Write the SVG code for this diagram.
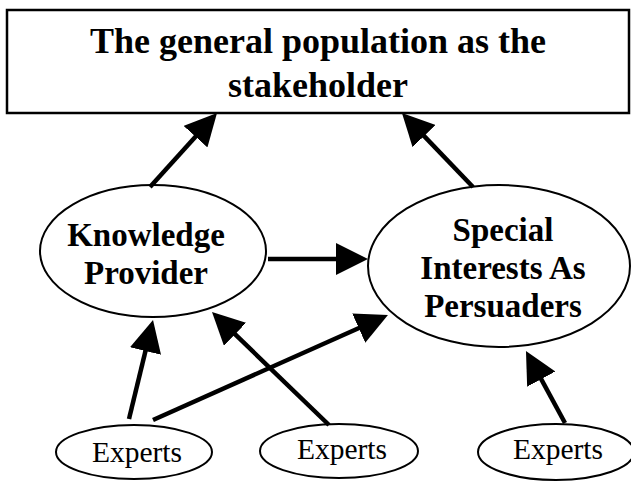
<svg xmlns="http://www.w3.org/2000/svg" width="631" height="482" viewBox="0 0 631 482">
<style>
.box{fill:#fff;stroke:#000;stroke-width:2.5}
.ell{fill:#fff;stroke:#000;stroke-width:2}
.bt{font-family:"Liberation Serif","Times New Roman",serif;font-weight:bold;text-anchor:middle;fill:#000}
.t1{font-size:36px}
.t2{font-size:33px}
.ex{font-family:"Liberation Serif","Times New Roman",serif;font-size:29.5px;text-anchor:middle;fill:#000}
.arr{stroke:#000;stroke-width:4.5;fill:none;marker-end:url(#ah)}
</style>
<defs>
<marker id="ah" markerUnits="userSpaceOnUse" markerWidth="32" markerHeight="32" viewBox="0 0 32 32" refX="12" refY="16" orient="auto">
<path d="M0,0 L32,16 L0,32 z" fill="#000"/>
</marker>
</defs>
<rect width="631" height="482" fill="#fff"/>
<g id="stakeholder">
<rect class="box" x="7" y="10" width="622" height="103"/>
<text class="bt t1" x="318" y="53">The general population as the</text>
<text class="bt t1" x="318" y="97">stakeholder</text>
</g>
<g id="knowledge">
<ellipse class="ell" cx="153" cy="251" rx="113" ry="66"/>
<text class="bt t2" x="146" y="246">Knowledge</text>
<text class="bt t2" x="146" y="284">Provider</text>
</g>
<g id="special">
<ellipse class="ell" cx="499" cy="266" rx="131" ry="81"/>
<text class="bt t2" x="503" y="241">Special</text>
<text class="bt t2" x="503" y="279">Interests As</text>
<text class="bt t2" x="503" y="317">Persuaders</text>
</g>
<g id="experts1">
<ellipse class="ell" cx="134" cy="452" rx="78" ry="27"/>
<text class="ex" x="137" y="462">Experts</text>
</g>
<g id="experts2">
<ellipse class="ell" cx="339" cy="451" rx="79" ry="27"/>
<text class="ex" x="342" y="459">Experts</text>
</g>
<g id="experts3">
<ellipse class="ell" cx="556" cy="452" rx="78" ry="28"/>
<text class="ex" x="558" y="459">Experts</text>
</g>
<g id="connectors">
<line class="arr" x1="150" y1="187" x2="203.6" y2="127.8"/>
<line class="arr" x1="473" y1="187" x2="415.8" y2="127.4"/>
<line class="arr" x1="268" y1="259" x2="348" y2="259"/>
<line class="arr" x1="129" y1="419" x2="148.3" y2="339.4"/>
<line class="arr" x1="153" y1="420" x2="369.7" y2="323.2"/>
<line class="arr" x1="329" y1="425" x2="226.4" y2="325.9"/>
<line class="arr" x1="565" y1="423" x2="535.5" y2="368.6"/>
</g>
</svg>
